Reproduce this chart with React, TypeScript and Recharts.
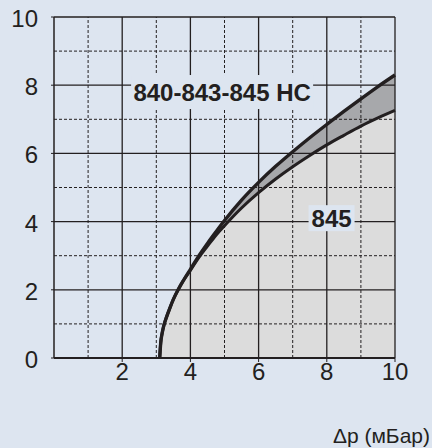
import { ComposedChart, Area, Line, XAxis, YAxis, ReferenceLine, ReferenceDot, Label } from 'recharts';

// Δp (mBar)
const pressure = [3.1, 3.13, 3.17, 3.22, 3.3, 3.4, 3.5, 3.65, 3.8, 4, 4.25, 4.5, 4.75, 5, 5.5, 6, 6.5, 7, 7.5, 8, 8.5, 9, 9.5, 10];
// 840-843-845 HC (upper curve)
const hcFlow = [0, 0.45, 0.72, 0.95, 1.2, 1.47, 1.72, 2.02, 2.28, 2.6, 3.0, 3.36, 3.7, 4.03, 4.63, 5.15, 5.62, 6.05, 6.46, 6.85, 7.23, 7.6, 7.96, 8.3];
// 845 (lower curve)
const flow845 = [0, 0.45, 0.72, 0.95, 1.2, 1.47, 1.72, 2.02, 2.28, 2.57, 2.95, 3.28, 3.6, 3.88, 4.4, 4.85, 5.25, 5.61, 5.94, 6.25, 6.53, 6.8, 7.04, 7.26];

const xTicks = [2, 4, 6, 8, 10];
const yTicks = [0, 2, 4, 6, 8, 10];
const solidGrid = [2, 4, 6, 8, 10];
const dashedGrid = [1, 3, 5, 7, 9];

const BG = '#dde5f0';
const INK = '#231f20';
const FONT = '"Liberation Sans", Arial, sans-serif';

const data = pressure.map((p, i) => ({ p, hc: hcFlow[i], low: flow845[i] }));

function boxLabel(text: string, w: number, h: number) {
  return (props: any) => {
    const { cx, cy } = props;
    return (
      <g>
        <rect x={cx - w / 2} y={cy - h / 2} width={w} height={h} fill={BG} />
        <text x={cx} y={cy} textAnchor="middle" dominantBaseline="central" fontFamily={FONT}
          fontWeight="bold" fontSize={24} fill={INK}>{text}</text>
      </g>
    );
  };
}

const XTick = ({ x, y, payload }: any) => (
  <text x={x} y={y + 18} textAnchor="middle" fontFamily={FONT} fontSize={24} fill={INK}>{payload.value}</text>
);

const YTick = ({ x, y, payload }: any) => (
  <text x={x + 1} y={y + 10} textAnchor="end" fontFamily={FONT} fontSize={24} fill={INK}>{payload.value}</text>
);

export default function App() {
  return (
    <div style={{ position: 'absolute', left: 0, top: 0, width: 432, height: 448, background: BG }}>
      <ComposedChart width={432} height={448} data={data} margin={{ top: 17, right: 37, bottom: 0, left: 0 }}>
        <XAxis dataKey="p" type="number" domain={[0, 10]} ticks={xTicks} height={90}
          tick={<XTick />} tickSize={4} tickMargin={0}
          axisLine={{ stroke: INK, strokeWidth: 2 }} tickLine={{ stroke: INK }}>
          <Label content={({ viewBox }: any) => (
            <text x={viewBox.x + viewBox.width + 35} y={viewBox.y + 85} textAnchor="end"
              fontFamily={FONT} fontSize={21} fill={INK}>Δp (мБар)</text>
          )} />
        </XAxis>
        <YAxis type="number" domain={[0, 10]} ticks={yTicks} width={54}
          tick={<YTick />} tickSize={3} tickMargin={14}
          axisLine={{ stroke: INK, strokeWidth: 1.5 }} tickLine={{ stroke: INK }} />
        <Area type="monotone" dataKey="low" stroke="none" fill="#dcdcdc" fillOpacity={1} isAnimationActive={false} />
        <Area type="monotone" dataKey={(d: any) => [d.low, d.hc]} stroke="none" fill="#a7a8ab" fillOpacity={1} isAnimationActive={false} />
        {dashedGrid.map((v) => (
          <ReferenceLine key={'dx' + v} x={v} stroke={INK} strokeWidth={1} strokeDasharray="3 2" />
        ))}
        {dashedGrid.map((v) => (
          <ReferenceLine key={'dy' + v} y={v} stroke={INK} strokeWidth={1} strokeDasharray="3 2" />
        ))}
        {solidGrid.map((v) => (
          <ReferenceLine key={'sx' + v} x={v} stroke={INK} strokeWidth={1.3} />
        ))}
        {solidGrid.map((v) => (
          <ReferenceLine key={'sy' + v} y={v} stroke={INK} strokeWidth={1.3} />
        ))}
        <ReferenceDot x={4.93} y={7.8} r={0} shape={boxLabel('840-843-845 HC', 182, 34)} />
        <ReferenceDot x={8.14} y={4.1} r={0} shape={boxLabel('845', 46, 26)} />
        <Line type="monotone" dataKey="low" stroke={INK} strokeWidth={3} dot={false} isAnimationActive={false} />
        <Line type="monotone" dataKey="hc" stroke={INK} strokeWidth={3.4} dot={false} isAnimationActive={false} />
      </ComposedChart>
    </div>
  );
}
